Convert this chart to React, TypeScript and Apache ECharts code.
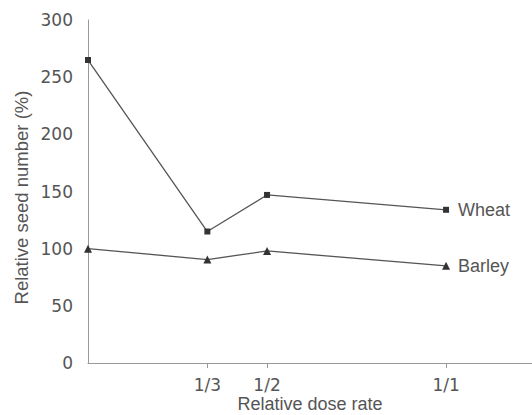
import React, { useEffect, useRef } from "react";
import * as echarts from "echarts";

const doseRates = [0, 1 / 3, 1 / 2, 1];
const doseTickValues = [1 / 3, 1 / 2, 1];
const doseTickLabels = ["1/3", "1/2", "1/1"];
const wheat = [265, 115, 147, 134];
const barley = [100, 90.5, 98, 85];
const yTicks = [0, 50, 100, 150, 200, 250, 300];

const FONT = "Liberation Sans";
const NUMFONT = "DejaVu Sans";
const TXT = "#555";

export default function App() {
  const ref = useRef<HTMLDivElement>(null);
  useEffect(() => {
    if (!ref.current) return;
    const chart = echarts.init(ref.current, null, { renderer: "svg" });
    const mk = (vals: number[]) => doseRates.map((x, i) => [x, vals[i]]);
    const lineStyle = { color: "#555", width: 1.3 };
    chart.setOption({
      animation: false,
      backgroundColor: "#fff",
      grid: {
        left: 88,
        top: 20,
        right: 0,
        bottom: 52,
        containLabel: false,
        outerBoundsMode: "none",
      },
      xAxis: {
        type: "value",
        min: 0,
        max: 1.24,
        name: "Relative dose rate",
        nameLocation: "middle",
        nameGap: 33,
        nameMoveOverlap: false,
        nameTextStyle: { fontFamily: FONT, fontSize: 18, color: TXT, lineHeight: 16 },
        axisLine: { lineStyle: { color: "#999", width: 1 } },
        axisTick: {
          show: true,
          customValues: doseTickValues,
          length: 5,
          lineStyle: { color: "#999" },
        },
        axisLabel: {
          customValues: doseTickValues,
          formatter: (v: number) => {
            const i = doseTickValues.findIndex((t) => Math.abs(t - v) < 1e-6);
            return i >= 0 ? doseTickLabels[i] : "";
          },
          fontFamily: NUMFONT,
          fontSize: 17,
          lineHeight: 16,
          color: TXT,
          margin: 14,
        },
        splitLine: { show: false },
      },
      yAxis: {
        type: "value",
        min: 0,
        max: 300,
        interval: 50,
        name: "Relative seed number (%)",
        nameLocation: "middle",
        nameGap: 57,
        nameMoveOverlap: false,
        nameTextStyle: {
          fontFamily: FONT,
          fontSize: 18.5,
          color: TXT,
          padding: [0, 12, 0, 0],
        },
        axisLine: { show: true, lineStyle: { color: "#999", width: 1 } },
        axisTick: { show: false },
        axisLabel: {
          fontFamily: NUMFONT,
          fontSize: 17,
          color: TXT,
          margin: 15,
          formatter: (v: number) => (yTicks.includes(v) ? String(v) : ""),
        },
        splitLine: { show: false },
      },
      series: [
        {
          name: "Wheat",
          type: "line",
          data: mk(wheat),
          symbol: "rect",
          symbolSize: 6,
          itemStyle: { color: "#333" },
          lineStyle,
          endLabel: {
            show: true,
            formatter: "Wheat",
            fontFamily: FONT,
            fontSize: 18,
            color: TXT,
            distance: 12,
          },
        },
        {
          name: "Barley",
          type: "line",
          data: mk(barley),
          symbol: "triangle",
          symbolSize: 8,
          itemStyle: { color: "#333" },
          lineStyle,
          endLabel: {
            show: true,
            formatter: "Barley",
            fontFamily: FONT,
            fontSize: 18,
            color: TXT,
            distance: 12,
          },
        },
      ],
    });
    return () => chart.dispose();
  }, []);
  return (
    <div
      ref={ref}
      style={{ position: "absolute", left: 0, top: 0, width: 532, height: 415 }}
    />
  );
}
